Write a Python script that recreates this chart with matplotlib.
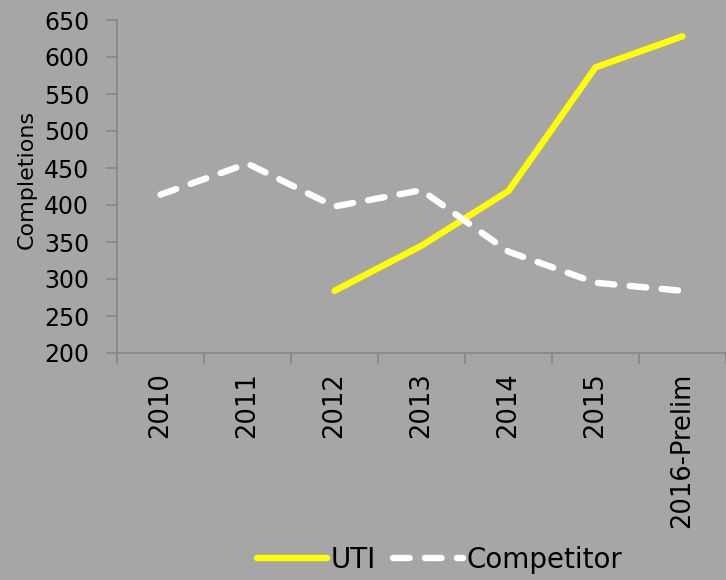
import matplotlib.pyplot as plt

years = ['2010', '2011', '2012', '2013', '2014', '2015', '2016-Prelim']
uti = [None, None, 284, 345, 419, 586, 628]
competitor = [414, 456, 398, 420, 337, 295, 284]

bg = '#a6a6a6'
axis_grey = '#868686'

fig = plt.figure(figsize=(7.26, 5.80), dpi=100, facecolor=bg)
ax = fig.add_axes([117 / 726, 227 / 580, 1 - 117 / 726, (353 - 20) / 580])
ax.set_facecolor(bg)

x = list(range(len(years)))
uti_x = [i for i, v in zip(x, uti) if v is not None]
uti_y = [v for v in uti if v is not None]

ax.plot(uti_x, uti_y, color='#ffff00', lw=4.6, solid_capstyle='round',
        solid_joinstyle='round', label='UTI', clip_on=False)
ax.plot(x, competitor, color='white', lw=4.6, linestyle=(0, (2.6, 2.4)),
        dash_capstyle='round', solid_joinstyle='round', label='Competitor',
        clip_on=False)

ax.set_xlim(-0.5, len(years) - 0.5)
ax.set_ylim(200, 650)
ax.set_yticks(range(200, 651, 50))
ax.set_xticks(x)
ax.set_xticklabels(years, rotation=90, fontsize=18.5)
ax.set_xticks([i - 0.5 for i in range(len(years) + 1)], minor=True)
ax.tick_params(axis='x', which='major', length=0, pad=14)
ax.tick_params(axis='x', which='minor', length=8, color=axis_grey, width=1.2)
ax.tick_params(axis='y', length=8, color=axis_grey, width=1.2, labelsize=17, pad=12)

for side in ['top', 'right']:
    ax.spines[side].set_visible(False)
for side in ['left', 'bottom']:
    ax.spines[side].set_color(axis_grey)
    ax.spines[side].set_linewidth(1.2)

ax.set_ylabel('Completions', fontsize=16)
ax.yaxis.set_label_coords(-80 / 609, (353 - 179) / 333)

fig.legend(loc='center', bbox_to_anchor=(440 / 726, 1 - 560 / 580), ncol=2,
           frameon=False, fontsize=20, handlelength=2.5, handletextpad=0.15,
           columnspacing=0.6)

fig.savefig('out.png', dpi=100, facecolor=bg)
